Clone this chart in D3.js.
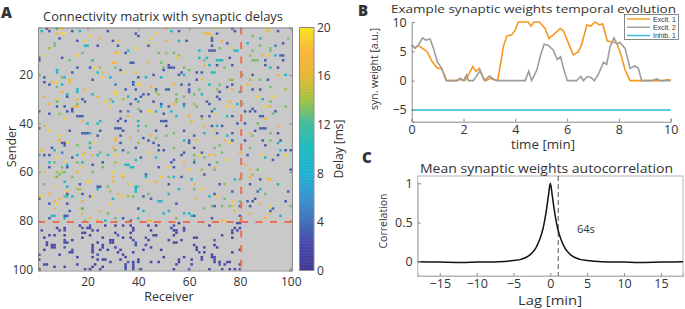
<!DOCTYPE html>
<html>
<head>
<meta charset="utf-8">
<script src="https://cdn.jsdelivr.net/npm/d3@7"></script>
<style>
  html, body { margin: 0; padding: 0; background: #fff; }
  svg { display: block; }
  text { font-family: "Open Sans", "Noto Sans", sans-serif; fill: #333; }
</style>
</head>
<body>
<svg id="fig" width="685" height="309"></svg>
<script>
// panel A: one line per sender, receivers hit by it and the delay of each synapse
var receivers = [
[4,8,9,10,51,70,77,91],
[2,5,14,17,28,53,56,78,91,95],
[8,10,11,39,47,66,67,68,71],
[21,69,40,85],
[9,25,45,69,88,99],
[16,19,30,32,51,56,59,69,73],
[7,44,75,83,97],
[7,19,20,24,32,44,69,88,94],
[5,39,72,77,92],
[36,64,68,69,70,78,79,85,92],
[18,31,32,35,48,51,54],
[3,16,56,84,89,91,94,96,97],
[1,10,55,64,67,76],
[1,13,22,66,71,72,73,85,86,87,90,97],
[30,31,37,38,44,49],
[52,66,68,71,77,90],
[16,21,23,25,31,50,52,53,54,58,74,92,95],
[8,33,50,60],
[8,14,24,26,34,39,57,63,65,69,70],
[1,46,56,58,81,85,95,98],
[3,10,11,26,29,40,43,49],
[13,22,63,65,76,77,84,88,91],
[3,6,8,13,38],
[5,10,31,38,40,41,54,57,60,68,72,77,83],
[8,45,75,92],
[16,19,35,39,47,51,52,60,64,71,77,85,88,98],
[16,31,60,80,10,47,72],
[12,22,31,42,44,48,55,62,65],
[24,87,3,12,36,41,58,71,93],
[8,16,18,29,34,39,89,55,72],
[30,46,8,19,27,40,55,67,76,92],
[5,16,37,49,54,58,62,68,79,81],
[8,11,15,16,29,49,52,58,63,75,77,90,92,98],
[14,40,70,85],
[1,12,14,33,36,41,44,45,47,53,69,82,84,86,94],
[5,9,50,70,93],
[16,17,18,36,55,60,65,68,75,77,88,89],
[11,33,65,90],
[18,25,32,35,40,49,50,51,61],
[20,24,79,82,87],
[3,40,43,51,66,69,71,73,95],
[1,31,32,33,88,89,90],
[5,25,34,47,13,40,58,70,86],
[18,19,20,21,54,66,71,77,84,92,95],
[24,45,62,85,9,33,51,75],
[31,37,42,47,70],
[9,31,44,58,60,63,74,77,82,89,92,96],
[10,11,12,21,22,33,40,46,60,76,95],
[11,16,48,72,90],
[21,39,54,62,70,6,30,84],
[2,7,31,34,48,50,96,98,100],
[10,19,25,36,44,58,65,73,80],
[1,3,5,16,18,22,24,28,31,57,62,64,68,70,83,89,95,98],
[8,14,41,47,66,90],
[39,54,62,75,93],
[5,7,11,16,18,26,31,53,58,62,71],
[12,22,35,36,68,82],
[1,5,10,12,18,26,37,38,48,52,54,70],
[60,65,70,84,87,100],
[3,8,10,11,16,22,30],
[9,34,43,66,85],
[7,8,14,30,34,43,49,52,54,57,84],
[61,78,80,88,91,92],
[11,20,21,30,44,47],
[17,36,72,74,95,3,52,62,84],
[7,12,24,25,28,39,40],
[16,17,24,39,56,62,65,88],
[12,29,39,77,87,99],
[12,18,32,70,90,5,44,52],
[2,11,12,14,21,22,34,36,38,42,68,71],
[1,30,63,86,9,45,74],
[7,18,48,49,77,80,83,85,98],
[5,8,12,29,55,88],
[69,70,73,76,77,80,84,92,100],
[7,17,18,40,66,93],
[13,33,52,78,25,42,92],
[18,28,50,58,60,84,92],
[6,7,11,12,61,62,80,96],
[5,11,31,34,40,21,55,69,90],
[19,24,27,37,44,45,73,74,80,100],
[56,79,80],
[17,21,27,31,34,37,44,47,54,68],
[8,11,18,20,21,38,53,58,78,80],
[2,9,11,22,24,38,45,54,55,58,77,79],
[18,19,31,37,55,77],
[5,7,11,21,32,46,47,54,73],
[3,18,26,34,37,43,62,63,77],
[11,14,29,30,38,44,52,57,70],
[4,11,12,24,29,30,39,54,55],
[4,6,7,22,26,39,43,62,70],
[6,7,11,22,26,31,45,63,66,71],
[3,14,22,25,28,33,42,49,63,80],
[13,14,22,32,38,64,66,77],
[1,9,24,34,69],
[16,22,35,50,58,65,69,70],
[1,24,26,27,33,40,56,61,65,70],
[29,36,38,40,45,48,56,70,72,75,76],
[3,4,16,23,35,38,55,61,72,74,80],
[7,11,22,26,35,38],
[1,19,21,25,35,38,41,54,60,68,73,76,78,80]
];
var delays = [
[3,10,19,17,17,19,3,19],
[10,3,3,9,3,9,3,3,17,3],
[17,19,19,3,19,17,17,17,3],
[19,17,3,13],
[3,17,19,3,10,13],
[3,19,3,17,17,9,3,3,17],
[13,19,3,9,3],
[13,10,10,3,3,3,3,13,5],
[14,19,13,17,13],
[9,9,3,3,3,9,9,13,13],
[13,17,19,3,13,14,13],
[19,19,14,14,17,19,9,3,3],
[3,3,19,9,10,3],
[3,13,10,13,10,10,10,13,13,13,3,3],
[17,17,3,3,17,13],
[3,17,9,3,3,3],
[3,3,19,14,13,13,3,3,3,13,13,10,3],
[10,3,3,13],
[9,3,10,17,19,17,3,3,3,10,10],
[13,3,3,9,13,3,17,9],
[3,13,10,19,9,3,9,9],
[17,3,3,17,14,13,14,13,3],
[3,17,19,17,3],
[3,9,5,3,19,19,17,3,3,10,13,3,17],
[13,17,3,13],
[9,17,3,3,3,3,3,3,13,14,17,3,3,14],
[9,19,3,9,17,13,3],
[10,10,19,3,3,14,13,13,9],
[17,19,17,3,10,3,13,3,19],
[19,17,3,14,14,3,9,13,3],
[9,3,13,3,19,9,14,3,17,13],
[17,13,3,3,17,4,14,3,9,13],
[3,3,17,17,19,10,3,9,13,19,19,19,17,13],
[3,13,9,3],
[3,3,3,3,5,3,19,19,9,9,3,3,3,3,3],
[3,14,3,19,13],
[3,3,3,17,9,17,3,3,10,3,3,3],
[19,3,14,17],
[17,10,3,3,10,3,3,3,17],
[10,10,3,3,13],
[17,10,13,3,17,3,9,3,17],
[3,3,3,3,3,3,3],
[19,3,3,3,3,13,3,19,3],
[3,3,3,10,13,9,3,3,17,13,3],
[3,17,3,13,19,3,13,9],
[17,17,3,13,19],
[17,17,3,9,3,17,17,3,3,3,13,3],
[3,3,19,9,19,3,14,3,3,19,9],
[3,13,3,13,3],
[9,3,13,3,13,3,17,13],
[17,10,13,3,3,3,9,3,3],
[5,17,13,13,19,3,3,13,17],
[10,3,3,10,19,17,10,10,19,3,13,19,17,17,3,19,3,19],
[19,3,3,10,13,9],
[10,3,13,19,3],
[10,13,19,13,10,3,14,3,17,3,13],
[9,3,9,9,3,17],
[17,3,13,3,19,13,10,10,3,19,3,17],
[19,14,13,17,13,3],
[17,14,14,13,17,13,19],
[13,19,3,3,14],
[17,13,13,17,17,9,19,13,9,3,17],
[9,9,13,3,17,17],
[9,19,19,17,19,17],
[3,17,3,14,9,13,3,17,3],
[19,9,3,3,13,9,13],
[14,14,9,9,9,13,19,9],
[19,14,9,3,3,3],
[3,3,17,3,13,17,13,9],
[19,13,10,10,3,19,19,14,13,3,9,19],
[3,10,17,3,17,3,13],
[17,17,9,9,19,13,3,3,3],
[3,19,3,19,3,17],
[13,3,13,13,17,3,3,19,13],
[17,17,9,3,13,3],
[3,19,9,17,17,9,3],
[17,13,9,9,9,17,17],
[9,9,3,3,9,3,3,9],
[3,9,13,3,9,17,13,3,17],
[14,17,9,3,17,17,17,19,17,17],
[2,2,2],
[2,3,2,2,2,2,2,2,3,2],
[2,2,3,2,2,2,2,2,2,2],
[2,2,3,2,2,2,2,2,2,2,3,2],
[2,2,2,2,2,2],
[2,2,2,2,3,2,2,2,2],
[2,2,2,2,2,3,2,2,2],
[2,2,2,2,2,2,2,2,3],
[2,2,2,2,2,2,3,2,2],
[2,2,2,2,2,2,2,2,2],
[2,2,3,2,2,2,2,2,2,2],
[2,3,2,2,2,2,2,2,2,2],
[2,2,2,2,2,3,2,2],
[2,2,3,2,2],
[2,2,2,2,2,2,2,2],
[2,2,2,2,2,2,2,2,2,2],
[2,3,2,2,2,2,2,2,2,2,2],
[2,2,2,2,2,2,2,2,3,2,2],
[2,2,2,2,2,2],
[2,2,2,2,3,3,2,2,2,2,2,2,2,2]
];
var senderTicks = [20, 40, 60, 80, 100];
var receiverTicks = [20, 40, 60, 80, 100];
var delayTicks = [0, 4, 8, 12, 16, 20];
var delayStops = [0, 2, 4, 6, 8, 10, 12, 14, 16, 18, 20];
var delayColors = ["#413c97", "#4846a8", "#4471b8", "#3b96cf", "#1eb2d0", "#1fbcc0", "#47bda0", "#a3c143", "#e7b737", "#fab73e", "#f5e81f"];
var excitationLimit = [80];

// panel B
var exc1Time = [0,.13,.26,.45,.6,.77,.97,1.16,1.35,1.74,1.87,2.06,2.19,2.36,2.48,2.61,2.77,2.87,3.02,3.28,3.32,3.54,3.67,3.86,3.99,4.12,4.5,4.6,4.72,4.93,5.15,5.3,5.47,5.73,5.86,6.05,6.24,6.43,6.56,6.76,6.91,7.08,7.25,7.37,7.55,7.72,7.92,8.1,8.24,8.43,9.72,9.85,10];
var exc1Weight = [6,5.6,6,5.4,4.9,3.4,2.2,2,0,0,.2,0,1,2.4,1.6,2.1,.4,0,.4,0,0,5.8,7.6,7.8,8.6,10,10,9.3,10,10,8.9,7.2,7.8,8.9,8.5,6.4,4.4,4.9,6.1,9.5,9.3,10,9.5,9.7,6.8,6.6,6.4,4.1,1.8,0,0,.2,.1];
var exc2Time = [0,.13,.26,.42,.55,.71,.84,.99,1.16,1.33,1.74,1.87,2,2.12,2.19,2.38,2.64,2.81,3,3.18,3.35,4.38,4.52,4.63,4.83,4.98,5.11,5.28,5.47,5.62,5.75,5.86,6.01,6.37,6.53,6.63,6.78,6.91,7.05,7.21,7.4,7.53,7.66,7.81,7.92,8.04,8.24,8.43,8.62,8.75,8.88,9.27,9.46,9.59,10];
var exc2Weight = [6.1,5.5,6.1,7.3,6.9,7.1,5.5,3.2,2.1,0,0,.4,0,1,0,0,1.7,0,.8,.2,0,0,1.6,0,1.8,4.4,6.2,6,5.2,3.6,4.1,2.1,0,0,.7,0,.7,.6,0,1.1,3.1,2.8,5.8,7.3,6.3,6.5,5.5,2.1,2.5,2.1,0,0,.3,0,0];
var inhTime = [0, 10];
var inhWeight = [-5, -5];
var timeTicks = [0, 2, 4, 6, 8, 10];
var weightTicks = [-5, 0, 5, 10];
var legendNames = ["Excit. 1", "Excit. 2", "Inhib. 1"];
var legendColors = ["#f7971f", "#9c9c9c", "#27bcd8"];

// panel C
var lag = [-18,-15,-12,-10,-7,-5,-4,-3,-2.5,-2,-1.5,-1,-.5,-.25,0,.25,.5,1,1.5,2,2.5,3,4,5,7,10,12,15,18];
var corr = [0,-.005,-.01,-.005,0,.015,.03,.07,.11,.17,.27,.42,.68,.85,1,.85,.68,.42,.27,.17,.11,.07,.03,.015,0,-.005,-.01,-.005,0];
var lagTicks = [-15, -10, -5, 0, 5, 10, 15];
var corrTicks = [0, 0.5, 1];
var markedLag = [64 / 60];

var svg = d3.select("#fig");
var axisGrey = "#8c8c8c";

function label(x, y, str, size, anchor, width) {
  var t = svg.append("text").attr("x", x).attr("y", y).attr("font-size", size)
    .attr("text-anchor", anchor || "start").text(str);
  if (width) t.attr("textLength", width).attr("lengthAdjust", "spacingAndGlyphs");
  return t;
}
function rotLabel(x, y, str, size) {
  return svg.append("text").attr("transform", "translate(" + x + "," + y + ") rotate(-90)")
    .attr("font-size", size).attr("text-anchor", "middle").text(str);
}
function styleAxis(g, size) {
  g.select(".domain").attr("stroke", axisGrey);
  g.selectAll(".tick line").attr("stroke", axisGrey);
  g.selectAll("text").attr("font-size", size).attr("font-family", null).attr("fill", "#333");
}

// A ---------------------------------------------------
var ax = d3.scaleLinear().domain([0.5, 100.5]).range([38, 292]);
var ay = d3.scaleLinear().domain([0.5, 100.5]).range([27.5, 270.5]);
var color = d3.scaleLinear().domain(delayStops).range(delayColors);
var cells = [];
receivers.forEach(function (row, i) {
  row.forEach(function (r, j) { cells.push({ s: i + 1, r: r, d: delays[i][j] }); });
});

svg.append("rect").attr("x", ax(0.5)).attr("y", ay(0.5))
  .attr("width", ax(100.5) - ax(0.5)).attr("height", ay(100.5) - ay(0.5)).attr("fill", "#c9c9c9");
svg.append("g").selectAll("rect").data(cells).join("rect")
  .attr("x", function (d) { return ax(d.r - 0.5); })
  .attr("y", function (d) { return ay(d.s - 0.5); })
  .attr("width", ax(1.5) - ax(0.5))
  .attr("height", ay(1.5) - ay(0.5))
  .attr("fill", function (d) { return color(d.d); });

svg.append("g").selectAll("line").data(excitationLimit).join("line")
  .attr("x1", function (d) { return ax(d + 0.5); }).attr("x2", function (d) { return ax(d + 0.5); })
  .attr("y1", ay(0.5)).attr("y2", ay(100.5));
svg.append("g").selectAll("line").data(excitationLimit).join("line")
  .attr("y1", function (d) { return ay(d + 0.5); }).attr("y2", function (d) { return ay(d + 0.5); })
  .attr("x1", ax(0.5)).attr("x2", ax(100.5));
svg.selectAll("line").attr("stroke", "#ea6f56").attr("stroke-width", 2).attr("stroke-dasharray", "7 7.5");

var aBottom = svg.append("g").attr("transform", "translate(0," + ay(100.5) + ")")
  .call(d3.axisBottom(ax).tickValues(receiverTicks).tickSize(-3).tickPadding(7));
styleAxis(aBottom, 12);
var aLeft = svg.append("g").attr("transform", "translate(" + ax(0.5) + ",0)")
  .call(d3.axisLeft(ay).tickValues(senderTicks).tickSize(-3).tickPadding(5));
styleAxis(aLeft, 12);
svg.append("g").attr("transform", "translate(0," + ay(0.5) + ")")
  .call(d3.axisTop(ax).tickValues(receiverTicks).tickSize(-3).tickFormat("")).call(styleAxis, 12);
svg.append("g").attr("transform", "translate(" + ax(100.5) + ",0)")
  .call(d3.axisRight(ay).tickValues(senderTicks).tickSize(-3).tickFormat("")).call(styleAxis, 12);

label(43, 21, "Connectivity matrix with synaptic delays", 13, "start", 240);
label(1, 17.5, "A", 15).attr("font-weight", 800).attr("fill", "#111");
rotLabel(16, 146.5, "Sender", 12.5);
label(169, 301, "Receiver", 12.5, "middle");

// colorbar
var cy = d3.scaleLinear().domain([0, 20]).range([270.5, 27.5]);
var barSteps = d3.range(0, 20, 0.25);
svg.append("g").selectAll("rect").data(barSteps).join("rect")
  .attr("x", 299.5).attr("width", 14.5)
  .attr("y", function (d) { return cy(d + 0.25); })
  .attr("height", cy(0) - cy(0.25) + 0.5)
  .attr("fill", function (d) { return color(d); });
svg.append("rect").attr("x", 299.5).attr("y", 27.5).attr("width", 14.5).attr("height", 243)
  .attr("fill", "none").attr("stroke", axisGrey);
var cAxis = svg.append("g").attr("transform", "translate(314,0)")
  .call(d3.axisRight(cy).tickValues(delayTicks).tickSize(0).tickPadding(3));
styleAxis(cAxis, 12);
cAxis.select(".domain").remove();
rotLabel(343, 149, "Delay [ms]", 12);

// B ---------------------------------------------------
var bx = d3.scaleLinear().domain([0, 10]).range([411.7, 670.7]);
var by = d3.scaleLinear().domain([-7, 10]).range([121.7, 22]);
var weightLine = d3.line().x(function (d) { return bx(d[0]); }).y(function (d) { return by(d[1]); });
var bSeries = [d3.zip(exc1Time, exc1Weight), d3.zip(exc2Time, exc2Weight), d3.zip(inhTime, inhWeight)];
svg.append("g").selectAll("path").data(bSeries).join("path")
  .attr("d", weightLine).attr("fill", "none").attr("stroke-width", 1.6)
  .attr("stroke", function (d, i) { return legendColors[i]; });

var bBottom = svg.append("g").attr("transform", "translate(0,121.7)")
  .call(d3.axisBottom(bx).tickValues(timeTicks).tickSize(-3).tickPadding(3));
styleAxis(bBottom, 12.5);
var bLeft = svg.append("g").attr("transform", "translate(411.7,0)")
  .call(d3.axisLeft(by).tickValues(weightTicks).tickSize(-3).tickPadding(5));
styleAxis(bLeft, 12.5);

label(391, 12.5, "Example synaptic weights temporal evolution", 11.5, "start", 285);
label(358, 16, "B", 15).attr("font-weight", 800).attr("fill", "#111");
label(543, 149, "time [min]", 12, "middle", 64);
rotLabel(378, 69, "syn. weight [a.u.]", 10.5);

svg.append("rect").attr("x", 624.5).attr("y", 14.5).attr("width", 54).attr("height", 25)
  .attr("fill", "#fff").attr("stroke", "#555").attr("stroke-width", 0.7);
var legendY = d3.scalePoint().domain(legendNames).range([19, 35.5]);
var legendRows = svg.append("g").selectAll("g").data(legendNames).join("g")
  .attr("transform", function (d) { return "translate(0," + legendY(d) + ")"; });
legendRows.append("line").attr("x1", 627).attr("x2", 650)
  .attr("stroke", function (d, i) { return legendColors[i]; }).attr("stroke-width", 1.4);
legendRows.append("text").attr("x", 653).attr("y", 2.5).attr("font-size", 7)
  .style("font-family", "Liberation Sans").text(function (d) { return d; });

// C ---------------------------------------------------
var lx = d3.scaleLinear().domain([-18, 18]).range([417.7, 683]);
var ly = d3.scaleLinear().domain([0, 1]).range([261.7, 183.3]);
var cTop = 176, cBottom = 276;

svg.append("rect").attr("x", 417.7).attr("y", cTop).attr("width", 265.3).attr("height", cBottom - cTop)
  .attr("fill", "none").attr("stroke", "#b5b5b5");
svg.append("g").selectAll("line").data(markedLag).join("line")
  .attr("x1", function (d) { return lx(d); }).attr("x2", function (d) { return lx(d); })
  .attr("y1", cTop).attr("y2", cBottom)
  .attr("stroke", "#555").attr("stroke-dasharray", "5 3");
svg.append("path").datum(d3.zip(lag, corr))
  .attr("d", d3.line().curve(d3.curveMonotoneX)
    .x(function (d) { return lx(d[0]); }).y(function (d) { return ly(d[1]); }))
  .attr("fill", "none").attr("stroke", "#111").attr("stroke-width", 1.5);

var cBottomAxis = svg.append("g").attr("transform", "translate(0," + cBottom + ")")
  .call(d3.axisBottom(lx).tickValues(lagTicks).tickSize(-3).tickPadding(3));
styleAxis(cBottomAxis, 12.5);
cBottomAxis.select(".domain").attr("stroke", "#b5b5b5");
var cLeftAxis = svg.append("g").attr("transform", "translate(417.7,0)")
  .call(d3.axisLeft(ly).tickValues(corrTicks).tickFormat(d3.format("")).tickSize(-3).tickPadding(5));
styleAxis(cLeftAxis, 12.5);
cLeftAxis.select(".domain").attr("stroke", "#b5b5b5");

label(420, 173, "Mean synaptic weights autocorrelation", 13, "start", 253);
label(362, 163, "C", 15).attr("font-weight", 800).attr("fill", "#111");
label(577, 233, "64s", 11);
label(550, 305, "Lag [min]", 13.5, "middle", 64);
rotLabel(387, 221, "Correlation", 10.5);
</script>
</body>
</html>
